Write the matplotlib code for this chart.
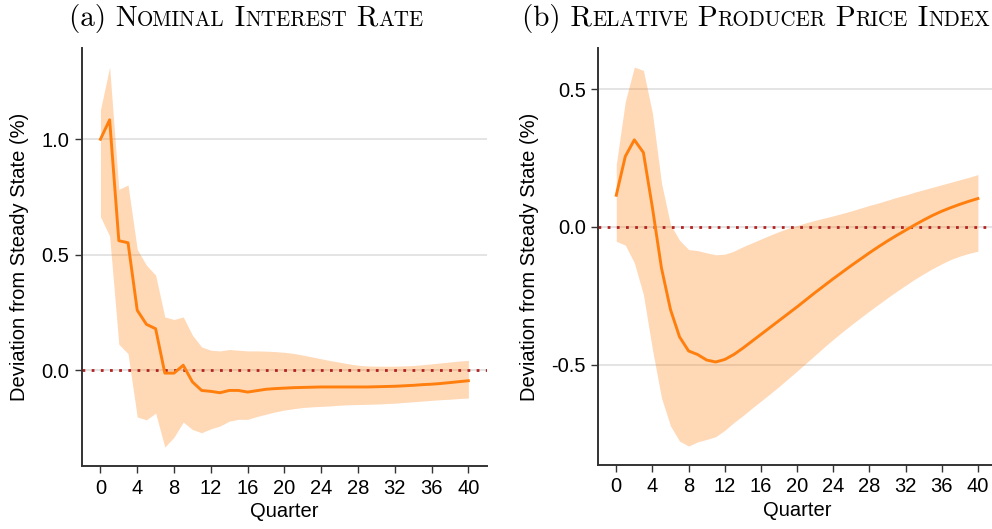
import numpy as np
import matplotlib
matplotlib.use("Agg")
import matplotlib.pyplot as plt

# quarters 0..40
quarters = np.arange(41)

# (a) nominal interest rate: median response and band
rate_mid = [1.0, 1.084, 0.561, 0.552, 0.26, 0.199, 0.18, -0.012, -0.012, 0.022,
            -0.05, -0.087, -0.091, -0.097, -0.087, -0.087, -0.094, -0.088, -0.082, -0.079,
            -0.077, -0.075, -0.074, -0.073, -0.072, -0.072, -0.072, -0.072, -0.072, -0.072,
            -0.071, -0.07, -0.069, -0.067, -0.065, -0.062, -0.06, -0.057, -0.053, -0.049,
            -0.045]
rate_hi = [1.127, 1.312, 0.783, 0.802, 0.523, 0.455, 0.412, 0.231, 0.22, 0.231,
           0.152, 0.101, 0.087, 0.084, 0.09, 0.087, 0.084, 0.084, 0.083, 0.081,
           0.078, 0.073, 0.066, 0.058, 0.05, 0.042, 0.035, 0.028, 0.022, 0.019,
           0.018, 0.018, 0.018, 0.019, 0.021, 0.024, 0.028, 0.032, 0.036, 0.04,
           0.043]
rate_lo = [0.665, 0.581, 0.113, 0.072, -0.202, -0.214, -0.185, -0.332, -0.289, -0.224,
           -0.256, -0.27, -0.253, -0.241, -0.22, -0.212, -0.212, -0.2, -0.19, -0.18,
           -0.172, -0.166, -0.161, -0.158, -0.156, -0.154, -0.151, -0.149, -0.148, -0.147,
           -0.146, -0.144, -0.142, -0.139, -0.136, -0.133, -0.13, -0.127, -0.125, -0.122,
           -0.12]

# (b) relative producer price index
ppi_mid = [0.115, 0.256, 0.316, 0.27, 0.07, -0.149, -0.30, -0.399, -0.45, -0.463,
           -0.483, -0.49, -0.481, -0.463, -0.44, -0.415, -0.39, -0.365, -0.34, -0.315,
           -0.29, -0.264, -0.238, -0.213, -0.188, -0.164, -0.14, -0.117, -0.094, -0.072,
           -0.051, -0.031, -0.012, 0.007, 0.025, 0.042, 0.057, 0.07, 0.082, 0.093,
           0.103]
ppi_hi = [0.226, 0.455, 0.58, 0.568, 0.413, 0.16, 0.008, -0.048, -0.082, -0.086,
          -0.094, -0.101, -0.099, -0.088, -0.072, -0.058, -0.044, -0.03, -0.017, -0.005,
          0.005, 0.015, 0.024, 0.032, 0.04, 0.049, 0.058, 0.068, 0.078, 0.087,
          0.097, 0.107, 0.116, 0.126, 0.135, 0.144, 0.153, 0.162, 0.171, 0.18,
          0.19]
ppi_lo = [-0.052, -0.066, -0.13, -0.245, -0.444, -0.62, -0.722, -0.777, -0.795, -0.78,
          -0.771, -0.761, -0.738, -0.71, -0.685, -0.658, -0.632, -0.606, -0.579, -0.551,
          -0.523, -0.494, -0.465, -0.436, -0.408, -0.381, -0.355, -0.33, -0.305, -0.281,
          -0.257, -0.234, -0.212, -0.19, -0.17, -0.151, -0.134, -0.118, -0.106, -0.096,
          -0.088]

rate_yticks = [0.0, 0.5, 1.0]
ppi_yticks = [-0.5, 0.0, 0.5]
xticks = list(range(0, 41, 4))

ORANGE = "#ff7f0e"
ZERO_RED = "#b22222"
FS = 14.5

plt.rcParams["font.family"] = ["Liberation Sans", "DejaVu Sans"]
plt.rcParams["axes.unicode_minus"] = False

fig = plt.figure(figsize=(9.92, 5.29), dpi=100)
ax1 = fig.add_axes([0.0827, 0.119, 0.408, 0.790])
ax2 = fig.add_axes([0.603, 0.121, 0.401, 0.788])


def draw_panel(ax, mid, lo, hi, yticks):
    ax.fill_between(quarters, lo, hi, color=ORANGE, alpha=0.3, linewidth=0, zorder=1)
    ax.axhline(0, color=ZERO_RED, lw=2, dashes=(1, 2.3), zorder=2)
    ax.plot(quarters, mid, color=ORANGE, lw=2.1, zorder=3)
    ax.set_xlim(-2, 42)
    ax.set_xticks(xticks)
    ax.set_yticks(yticks)
    ax.set_yticklabels([f"{v:.1f}" for v in yticks])
    ax.grid(axis="y", color="#dcdcdc", lw=1.1, zorder=0)
    ax.set_axisbelow(True)
    for s in ["top", "right"]:
        ax.spines[s].set_visible(False)
    for s in ["left", "bottom"]:
        ax.spines[s].set_color("#333333")
        ax.spines[s].set_linewidth(1.4)
    ax.tick_params(length=5, width=1, color="#333333", labelsize=FS, pad=4)
    ax.set_xlabel("Quarter", fontsize=FS, labelpad=3)
    ax.set_ylabel("Deviation from Steady State (%)", fontsize=FS, labelpad=9)


draw_panel(ax1, rate_mid, rate_lo, rate_hi, rate_yticks)
draw_panel(ax2, ppi_mid, ppi_lo, ppi_hi, ppi_yticks)


def smallcaps_title(cx_px, base_px, pieces, size=21, ratio=0.72):
    # pieces: list of (text, is_small)
    renderer = fig.canvas.get_renderer()
    texts = []
    x = 0.0
    y = 1 - base_px / 529
    for txt, small in pieces:
        t = fig.text(0, y, txt, fontsize=size * ratio if small else size,
                     family="cmr10", va="baseline", ha="left")
        w = t.get_window_extent(renderer).width
        texts.append((t, x))
        x += w
    start = cx_px - x / 2
    for t, off in texts:
        t.set_x((start + off) / 992)


smallcaps_title(246, 26, [("(a) N", False), ("OMINAL", True), (" I", False),
                          ("NTEREST", True), (" R", False), ("ATE", True)])
smallcaps_title(756, 26, [("(b) R", False), ("ELATIVE", True), (" P", False),
                          ("RODUCER", True), (" P", False), ("RICE", True),
                          (" I", False), ("NDEX", True)])

fig.savefig("out.png", dpi=100)
